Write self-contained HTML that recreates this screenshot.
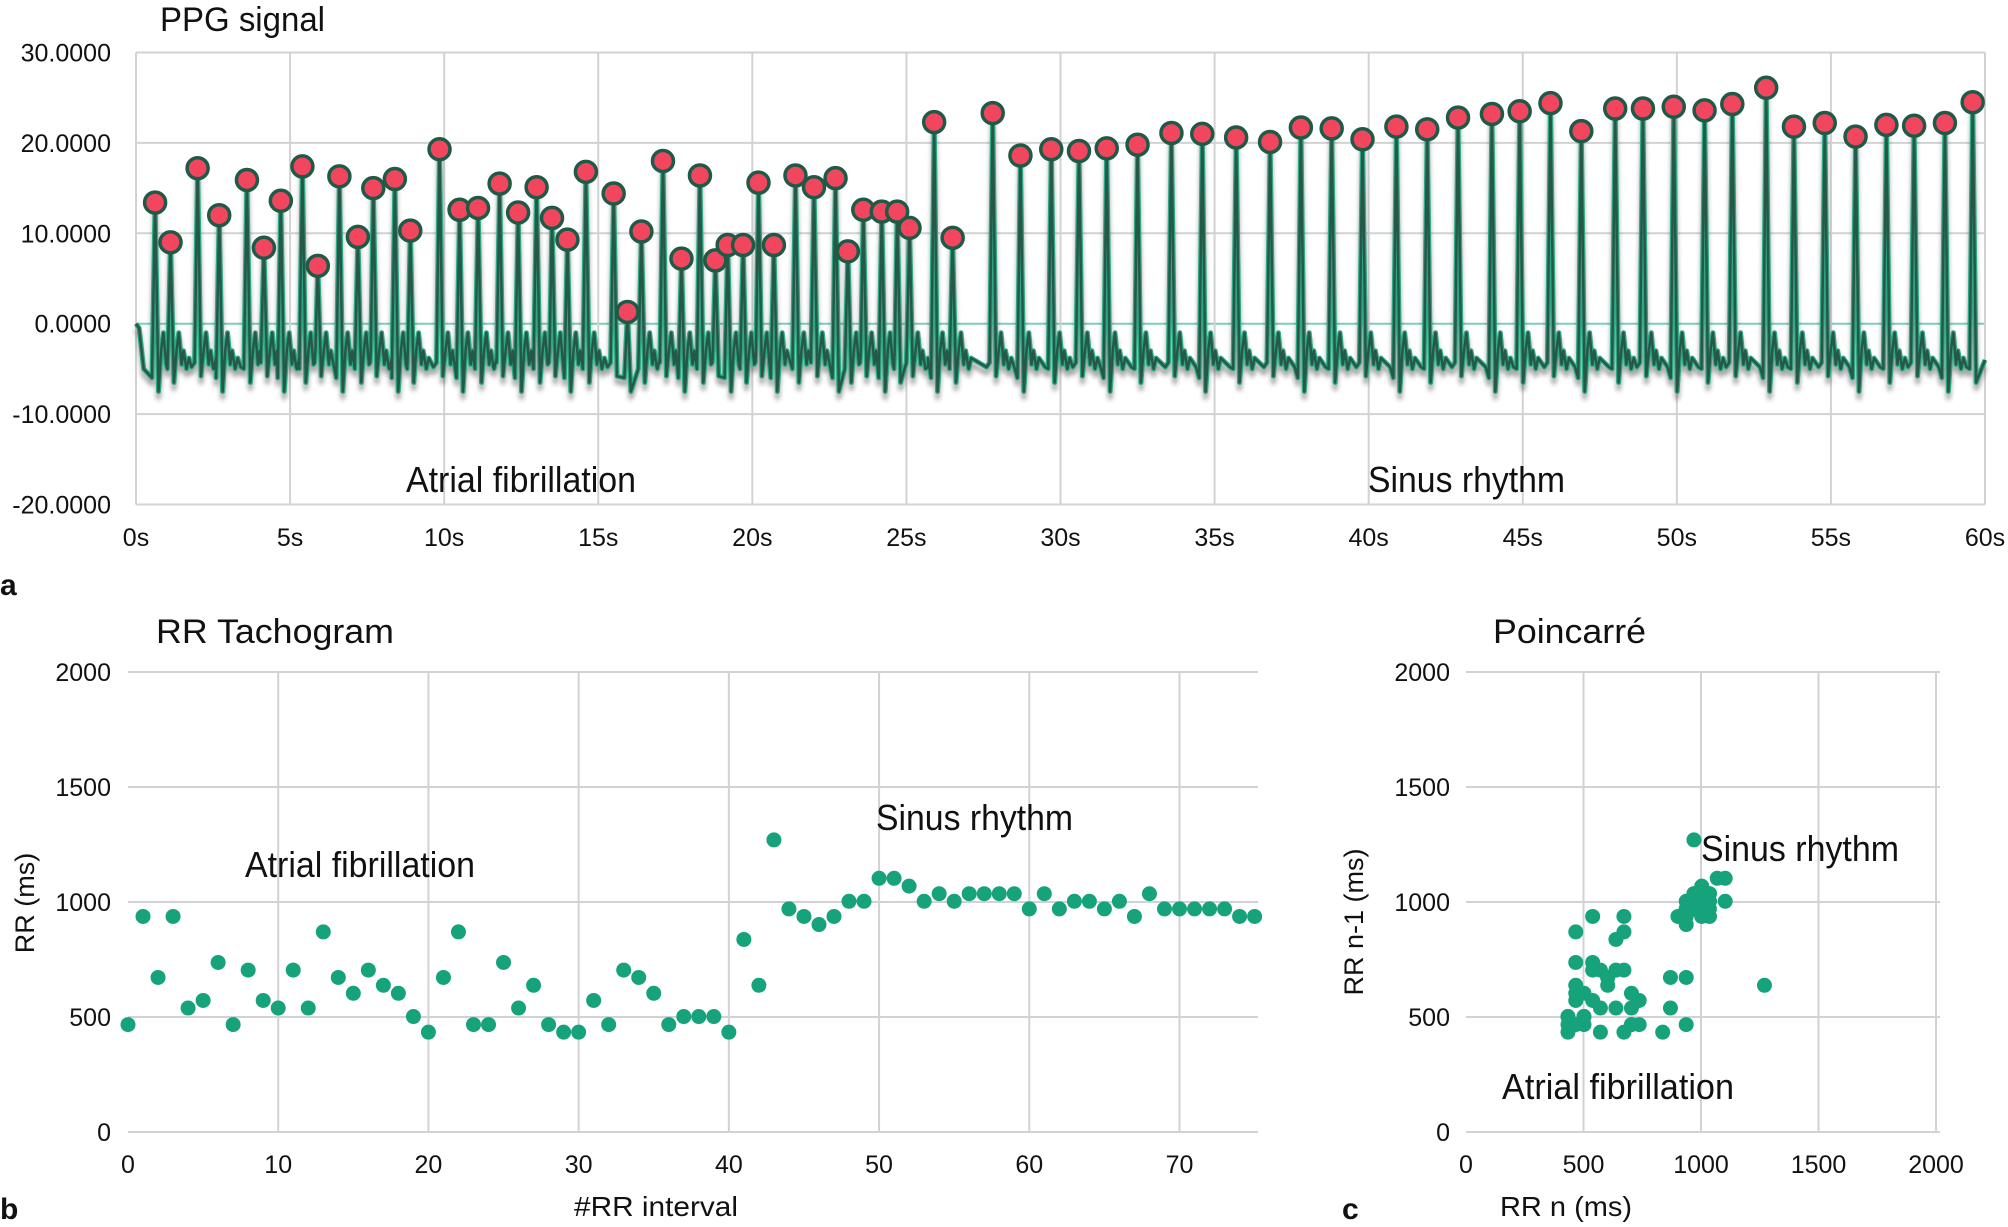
<!DOCTYPE html>
<html><head><meta charset="utf-8"><style>
html,body{margin:0;padding:0;background:#fff}
svg{display:block}
text{font-family:"Liberation Sans",sans-serif;fill:#111}
</style></head><body>
<svg id="svg" width="2008" height="1227" viewBox="0 0 2008 1227" xmlns="http://www.w3.org/2000/svg">
<defs><filter id="sh" x="-5%" y="-5%" width="110%" height="120%"><feGaussianBlur in="SourceAlpha" stdDeviation="2.5"/><feOffset dy="6"/><feComponentTransfer><feFuncA type="linear" slope="0.35"/></feComponentTransfer><feMerge><feMergeNode/><feMergeNode in="SourceGraphic"/></feMerge></filter></defs>
<g id="gA"></g>
<g id="gB"></g>
<g id="gC"></g>
<text x="160" y="31" font-size="34" textLength="165" lengthAdjust="spacingAndGlyphs">PPG signal</text>
<text x="406" y="492" font-size="36" textLength="230" lengthAdjust="spacingAndGlyphs">Atrial fibrillation</text>
<text x="1368" y="492" font-size="36" textLength="197" lengthAdjust="spacingAndGlyphs">Sinus rhythm</text>
<text x="0" y="595" font-size="30" font-weight="bold">a</text>
<text x="156" y="643" font-size="34" textLength="238" lengthAdjust="spacingAndGlyphs">RR Tachogram</text>
<text x="245" y="877" font-size="36" textLength="230" lengthAdjust="spacingAndGlyphs">Atrial fibrillation</text>
<text x="876" y="830" font-size="36" textLength="197" lengthAdjust="spacingAndGlyphs">Sinus rhythm</text>
<text x="574" y="1216" font-size="28" textLength="164" lengthAdjust="spacingAndGlyphs">#RR interval</text>
<text transform="translate(34,903) rotate(-90)" text-anchor="middle" font-size="27">RR (ms)</text>
<text x="0" y="1219" font-size="30" font-weight="bold">b</text>
<text x="1493" y="643" font-size="34" textLength="153" lengthAdjust="spacingAndGlyphs">Poincarré</text>
<text x="1701" y="861" font-size="36" textLength="198" lengthAdjust="spacingAndGlyphs">Sinus rhythm</text>
<text x="1502" y="1099" font-size="36" textLength="232" lengthAdjust="spacingAndGlyphs">Atrial fibrillation</text>
<text x="1500" y="1216" font-size="28" textLength="132" lengthAdjust="spacingAndGlyphs">RR n (ms)</text>
<text transform="translate(1363,922) rotate(-90)" text-anchor="middle" font-size="27">RR n-1 (ms)</text>
<text x="1342" y="1219" font-size="30" font-weight="bold">c</text>
</svg>
<script>
const peakTimes=[0.62,1.12,2.0,2.7,3.6,4.15,4.7,5.4,5.9,6.6,7.2,7.7,8.4,8.9,9.85,10.5,11.1,11.8,12.4,13.0,13.5,14.0,14.6,15.5,15.95,16.4,17.1,17.7,18.3,18.8,19.2,19.7,20.2,20.7,21.4,22.0,22.7,23.1,23.6,24.2,24.7,25.1,25.9,26.5,27.8,28.7,29.7,30.6,31.5,32.5,33.6,34.6,35.7,36.8,37.8,38.8,39.8,40.9,41.9,42.9,44.0,44.9,45.9,46.9,48.0,48.9,49.9,50.9,51.8,52.9,53.8,54.8,55.8,56.8,57.7,58.7,59.6];
const peakValues=[13.4,9.0,17.2,12.0,15.9,8.4,13.6,17.4,6.4,16.3,9.6,15.0,16.0,10.3,19.3,12.6,12.8,15.5,12.3,15.1,11.7,9.3,16.8,14.4,1.3,10.2,18.0,7.2,16.4,7.0,8.7,8.7,15.6,8.7,16.4,15.1,16.1,8.0,12.6,12.4,12.4,10.6,22.3,9.5,23.3,18.6,19.3,19.1,19.4,19.8,21.1,21.0,20.6,20.1,21.7,21.6,20.4,21.8,21.5,22.8,23.2,23.5,24.4,21.3,23.8,23.8,24.0,23.6,24.3,26.1,21.8,22.2,20.7,22.0,21.9,22.2,24.5];
const ppgYTicks=[30,20,10,0,-10,-20];
const ppgYLabels=["30.0000","20.0000","10.0000","0.0000","-10.0000","-20.0000"];
const ppgXTicks=[0,5,10,15,20,25,30,35,40,45,50,55,60];
const rrValues=[467,937,672,937,539,572,737,467,704,572,539,704,539,870,672,603,704,638,603,502,434,672,870,467,467,737,539,638,467,434,434,572,467,704,672,603,467,502,502,502,434,837,638,1270,970,937,902,937,1003,1003,1103,1103,1069,1003,1036,1003,1036,1036,1036,1036,970,1036,970,1003,1003,970,1003,937,1036,970,970,970,970,970,937,937];
const rrXTicks=[0,10,20,30,40,50,60,70];
const rrYTicks=[0,500,1000,1500,2000];
const pcTicks=[0,500,1000,1500,2000];

const NS="http://www.w3.org/2000/svg";
function mk(tag,attrs,parent){const e=document.createElementNS(NS,tag);for(const k in attrs)e.setAttribute(k,attrs[k]);parent.appendChild(e);return e;}
function txt(s,x,y,anchor,size,parent){const t=mk('text',{x:x,y:y,'text-anchor':anchor,'font-size':size},parent);t.textContent=s;return t;}

const gA=document.getElementById('gA');
const ax=t=>136+t*(1985-136)/60;
const ay=v=>323.7-v*9.04;
ppgYTicks.forEach((v,i)=>{
  const l=mk('line',{x1:136,x2:1985,y1:ay(v),y2:ay(v),stroke:v===0?'#7fcdb8':'#d2d2d2','stroke-width':2},gA);
  
  
  const t=txt(ppgYLabels[i],111,ay(v)+9,'end',25,gA);
  
  
});
ppgXTicks.forEach(s=>{
  const l=mk('line',{x1:ax(s),x2:ax(s),y1:ay(30),y2:ay(-20),stroke:'#d2d2d2','stroke-width':2},gA);
  
  
  const t=txt(s+'s',ax(s),546,'middle',25,gA);
  
  
});
let pts=[[0,0],[0.1,-0.5],[0.25,-5]];
for(let i=0;i<peakTimes.length;i++){
  const tp=peakTimes[i],vp=peakValues[i];
  const nxt=i+1<peakTimes.length?peakTimes[i+1]:60;
  const gap=nxt-tp;
  const tr=(i%3===0)?-7.5:(i%3===1?-6.5:-5.8);
  pts.push([tp-0.1,tr+1.5],[tp,vp],[tp+0.11,tr]);
  if(gap>0.45){pts.push([tp+0.2,-2.8],[tp+0.27,-1.0],[tp+0.36,-4.5],[tp+0.42,-3.0]);}
  if(gap>0.7){pts.push([tp+0.52,-5],[tp+0.6,-3.8],[nxt-0.2,-4.8]);}
}
pts.push([60,-4]);
pts.sort((a,b)=>a[0]-b[0]);
const d='M'+pts.map(p=>ax(p[0]).toFixed(1)+','+ay(p[1]).toFixed(1)).join('L');
const sg=mk('g',{filter:'url(#sh)'},gA);


mk('path',{d:d,fill:'none',stroke:'#2fa883','stroke-width':5,'stroke-linejoin':'round'},sg);
mk('path',{d:d,fill:'none',stroke:'#25584a','stroke-width':2.5,'stroke-linejoin':'round'},sg);
peakTimes.forEach((t,i)=>{
  const c=mk('circle',{cx:ax(t),cy:ay(peakValues[i]),r:10.5,fill:'#f2465e',stroke:'#1f5a47','stroke-width':3.5},gA);
  
  
});

const gB=document.getElementById('gB');
const bx=i=>128+i*(1179.5-128)/70;
const by=v=>1132-v*(1132-672)/2000;
rrYTicks.forEach(v=>{
  const l=mk('line',{x1:128,x2:1258,y1:by(v),y2:by(v),stroke:'#d2d2d2','stroke-width':2},gB);
  
  
  const t=txt(String(v),111,by(v)+9,'end',25,gB);
  
  
});
rrXTicks.forEach(v=>{
  if(v>0){const l=mk('line',{x1:bx(v),x2:bx(v),y1:by(2000),y2:by(0),stroke:'#d2d2d2','stroke-width':2},gB);
  
  }
  const t=txt(String(v),bx(v),1173,'middle',25,gB);
  
  
});
rrValues.forEach((v,i)=>{
  const c=mk('circle',{cx:bx(i),cy:by(v),r:7.5,fill:'#16a27a'},gB);
  
  
});

const gC=document.getElementById('gC');
const cx=v=>1466+v*(1936-1466)/2000;
pcTicks.forEach(v=>{
  const l=mk('line',{x1:1466,x2:1940,y1:by(v),y2:by(v),stroke:'#d2d2d2','stroke-width':2},gC);
  
  
  const t=txt(String(v),1450,by(v)+9,'end',25,gC);
  
  
  if(v>0){const l2=mk('line',{x1:cx(v),x2:cx(v),y1:by(2000),y2:by(0),stroke:'#d2d2d2','stroke-width':2},gC);
  
  }
  const t2=txt(String(v),cx(v),1173,'middle',25,gC);
  
  
});
for(let i=1;i<rrValues.length;i++){
  const c=mk('circle',{cx:cx(rrValues[i]),cy:by(rrValues[i-1]),r:7.5,fill:'#16a27a'},gC);
  
  
}
</script>
</body></html>
